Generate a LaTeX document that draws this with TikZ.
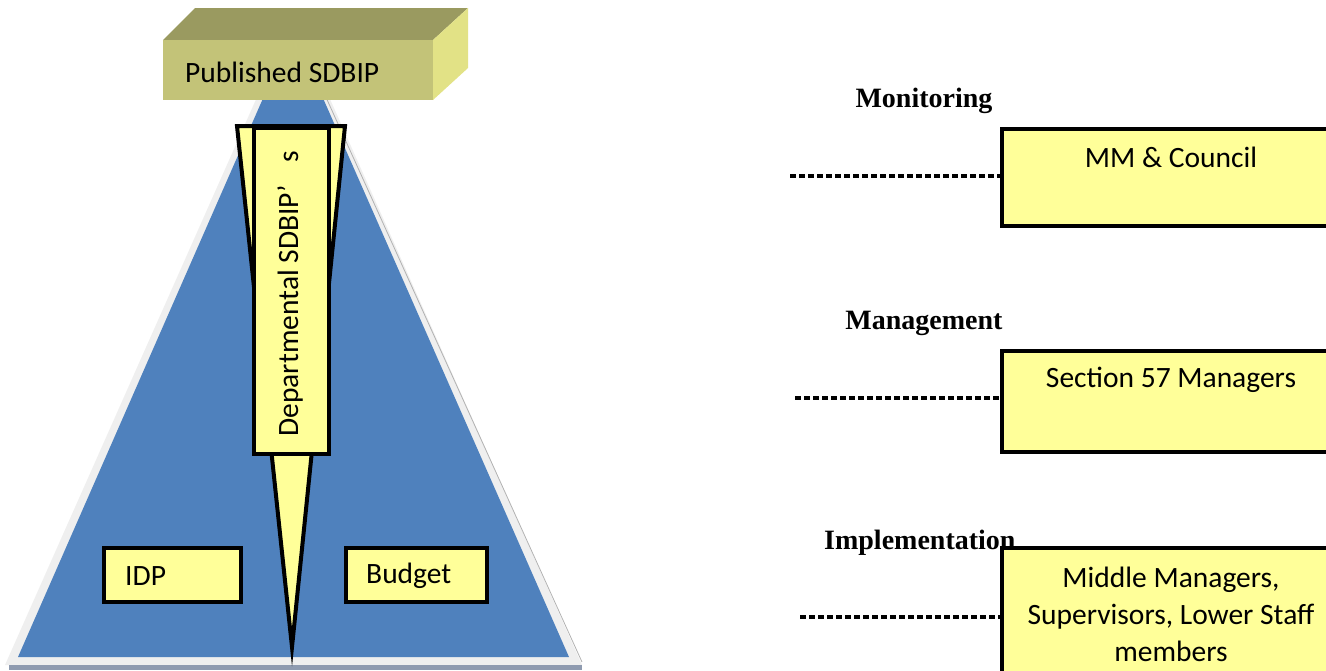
\documentclass[tikz,border=0pt]{standalone}
\usepackage{fontspec}
\setmainfont{Carlito}
\newfontfamily\serifb{Liberation Serif}
\usetikzlibrary{calc}
\definecolor{pyblue}{HTML}{4F81BD}
\definecolor{pyedge}{HTML}{EFEFEF}
\definecolor{pyband}{HTML}{8F9BB0}
\definecolor{ybox}{HTML}{FFFF99}
\definecolor{cubefront}{HTML}{C3C378}
\definecolor{cubetop}{HTML}{9A9A60}
\definecolor{cuberight}{HTML}{E2E286}
\tikzset{
  yellowbox/.style={draw=black, line width=3.8pt, fill=ybox, inner sep=0pt},
  boxtext/.style={font=\fontsize{29.5}{37}\selectfont, align=center, inner sep=0pt},
  levellabel/.style={font=\serifb\bfseries\fontsize{28}{32}\selectfont, inner sep=0pt},
  dashline/.style={draw=black, line width=3.2pt, dash pattern=on 6pt off 3pt},
}
\begin{document}
\begin{tikzpicture}[x=1pt,y=-1pt]
\useasboundingbox (0,0) rectangle (1326,670);
% pyramid
\fill[pyedge] (5,665) -- (293,16) -- (582,665) -- cycle;
\draw[gray!60, line width=0.8pt] (300,40) -- (582,662);
\fill[pyblue] (18,657) -- (293,30) -- (569,657) -- cycle;
\fill[pyband] (9,665) rectangle (582,670);
% published SDBIP cuboid
\fill[cubetop] (163,40) -- (195,8) -- (468,8) -- (433,40) -- cycle;
\fill[cuberight] (433,40) -- (468,8) -- (468,68) -- (433,100) -- cycle;
\fill[cubefront] (163,40) rectangle (433,100);
\node[boxtext, anchor=west] (pub) at (185,72) {Published SDBIP};
% departmental spike
\coordinate (spL) at (237,126);
\coordinate (spR) at (345,126);
\coordinate (spT) at (292,647);
\filldraw[fill=ybox, draw=black, line width=4pt, line join=miter] (spL) -- (spR) -- (spT) -- cycle;
\node[yellowbox, minimum width=75pt, minimum height=326pt, anchor=north west] (dept) at (252,126) {};
\node[boxtext, rotate=90] (deptt) at (290,294) {Departmental SDBIP’\hspace{22pt}s};
% IDP and Budget
\node[yellowbox, minimum width=137pt, minimum height=54pt, anchor=north west] (idp) at (102,546) {};
\node[boxtext, anchor=west] (idpt) at (125,576) {IDP};
\node[yellowbox, minimum width=141pt, minimum height=54pt, anchor=north west] (bud) at (344,546) {};
\node[boxtext, anchor=west] (budt) at (366,576) {Budget};
% right side
\node[levellabel] (mon) at (924,101) {Monitoring};
\node[yellowbox, minimum width=340pt, minimum height=97pt, anchor=north west] (mm) at (1000,127) {};
\node[boxtext] (mmt) at (1171,157) {MM \& Council};
\coordinate (d1) at (790,176);
\draw[dashline] (d1) -- (d1 -| mm.west);

\node[levellabel] (man) at (924,323) {Management};
\node[yellowbox, minimum width=340pt, minimum height=101pt, anchor=north west] (s57) at (1000,349) {};
\node[boxtext] (s57t) at (1171,380) {Section 57 Managers};
\coordinate (d2) at (795,398);
\draw[dashline] (d2) -- (d2 -| s57.west);

\node[levellabel, anchor=west] (imp) at (824,543) {Implementation};
\node[yellowbox, minimum width=340pt, minimum height=140pt, anchor=north west] (mid) at (1000,546) {};
\node[boxtext, anchor=north] (midt) at (1171,567) {Middle Managers,\\Supervisors, Lower Staff\\members};
\coordinate (d3) at (800,617);
\draw[dashline] (d3) -- (d3 -| mid.west);
\end{tikzpicture}
\end{document}
